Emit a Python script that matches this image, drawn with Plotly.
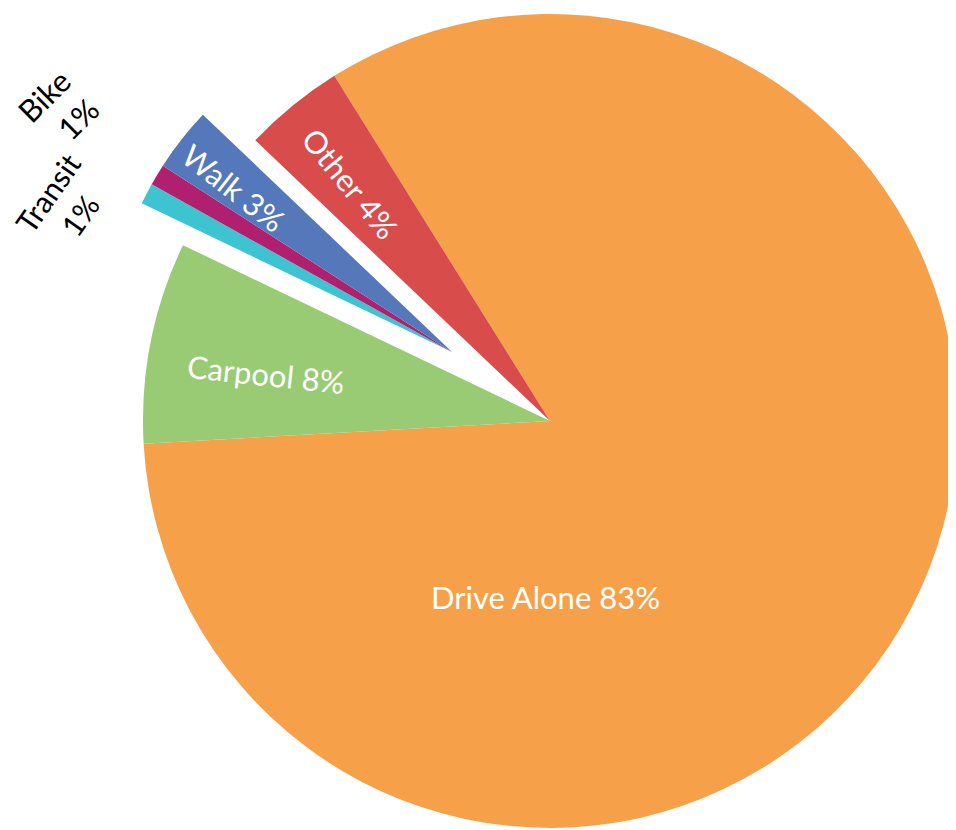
import plotly.graph_objects as go

# commute mode split (%)
modes = ["Drive Alone", "Carpool", "Transit", "Bike", "Walk", "Other"]
shares = [83, 8, 1, 1, 3, 4]
colors = ["#F6A14A", "#98CB73", "#3EC4D0", "#B0206E", "#5478BA", "#D94C4C"]
exploded = ["Transit", "Bike", "Walk"]

W, H = 956, 830
OFF = 8  # default body margin of the html page
CLEAR = "rgba(0,0,0,0)"
FONT = "Lato"


def px(x, y):
    """page pixel -> paper coords"""
    return (x - OFF) / W, 1 - (y - OFF) / H


def box(cx, cy, r):
    """pixel circle (page coords) -> paper domain"""
    x0, y1 = px(cx - r, cy - r)
    x1, y0 = px(cx + r, cy + r)
    return dict(x=[max(x0, 0), min(x1, 1)], y=[max(y0, 0), min(y1, 1)])


def pie(visible, domain):
    cols = [c if m in visible else CLEAR for m, c in zip(modes, colors)]
    return go.Pie(labels=modes, values=shares, sort=False, direction="clockwise",
                  rotation=-32, marker=dict(colors=cols, line=dict(width=0)),
                  textinfo="none", hoverinfo="skip", domain=domain)


fig = go.Figure()
main = [m for m in modes if m not in exploded]
fig.add_trace(pie(main, box(550, 421, 407)))
# the exploded group, shifted up-left (radius limited by the top edge)
fig.add_trace(pie(exploded, box(452, 352, 344)))

# label placement: (x px, y px, angle, colour, two lines?, align, size)
label_pos = {
    "Drive Alone": (545, 597, 0, "white", False, "center", 31),
    "Carpool": (266, 374, 6, "white", False, "center", 31),
    "Walk": (234, 188, 38, "white", False, "center", 31),
    "Other": (350, 183, 51, "white", False, "center", 31),
    "Bike": (58, 110, -45, "black", True, "right", 31),
    "Transit": (64, 204, -55, "black", True, "center", 30),
}
for m, s in zip(modes, shares):
    x, y, ang, col, two, al, sz = label_pos[m]
    txt = f"{m}<br>{s}%" if two else f"{m} {s}%"
    ax, ay = px(x, y)
    fig.add_annotation(x=ax, y=ay, xref="paper", yref="paper",
                       text=txt, showarrow=False, textangle=ang, align=al,
                       xanchor="center", yanchor="middle",
                       font=dict(family=FONT, size=sz, color=col))

fig.update_layout(width=W, height=H, margin=dict(l=0, r=0, t=0, b=0),
                  paper_bgcolor="white", showlegend=False)
fig.write_html("out.html")
